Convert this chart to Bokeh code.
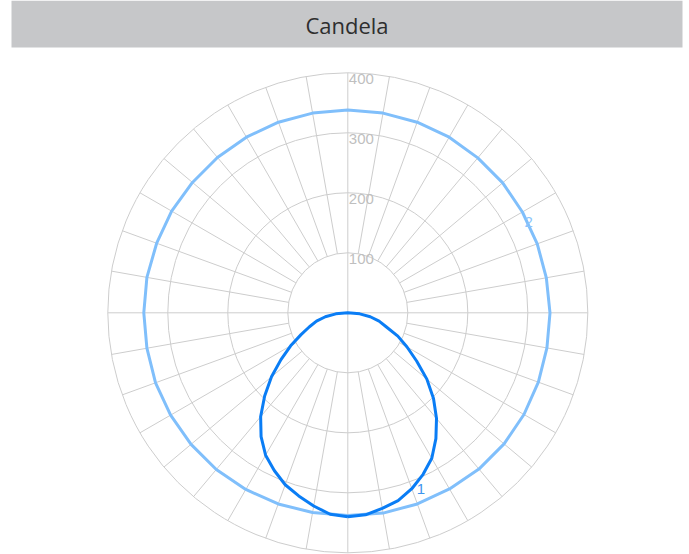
import numpy as np
from bokeh.plotting import figure
from bokeh.models import Range1d
from bokeh.core.properties import value
from bokeh.embed import file_html
from bokeh.resources import INLINE

# ---------------- data ----------------
title_text = "Candela"
radial_ticks = [100, 200, 300, 400]
radial_tick_labels = ["100", "200", "300", "400"]
spoke_step_deg = 10

# series 1: angle from nadir (deg), candela, two half-planes
s1_angles = [0, 5, 10, 15, 20, 25, 30, 35, 40, 45, 50, 55, 60, 65, 70, 75, 80, 85, 90]
s1_right = [340, 338, 331, 324, 312, 297, 280, 256, 230, 202, 172, 140, 114, 92, 68, 54, 38, 20, 0]
s1_left = [340, 337, 327, 316, 305, 290, 274, 252, 226, 196, 166, 136, 110, 86, 68, 54, 38, 20, 0]

# series 2: full turn, angle from nadir going right/up/left
s2_angles = [0, 10, 20, 30, 40, 50, 60, 70, 80, 90, 100, 110, 120,
             130, 140, 150, 160, 170, 180, 190, 200, 210, 220, 230, 240,
             250, 260, 270, 280, 290, 300, 310, 320, 330, 340, 350, 360]
s2_values = [338, 339, 339, 339, 340, 340, 339, 338, 337, 337, 336, 336, 336,
             337, 337, 338, 338, 338, 338, 338, 338, 338, 338, 338, 339,
             339, 340, 340, 340, 341, 341, 341, 341, 340, 339, 338, 338]

series_labels = ["1", "2"]

# ---------------- geometry ----------------
FIG_W, FIG_H = 684, 554
CX, CY = 347.3, 312.3   # polar centre in figure pixels
PX = 0.6                # pixels per candela


def dx(px):
    return (px - CX) / PX


def dy(py):
    return (CY - py) / PX


def polar(theta_deg, r):
    t = np.radians(np.asarray(theta_deg, dtype=float))
    r = np.asarray(r, dtype=float)
    return r * np.sin(t), -r * np.cos(t)


p = figure(width=FIG_W, height=FIG_H,
           x_range=Range1d(dx(0), dx(FIG_W)), y_range=Range1d(dy(FIG_H), dy(0)),
           output_backend="svg", toolbar_location=None,
           x_axis_location=None, y_axis_location=None,
           min_border=0, min_border_left=0, min_border_right=0,
           min_border_top=0, min_border_bottom=0)
p.grid.visible = False
p.outline_line_color = None
p.background_fill_color = "white"
p.border_fill_color = "white"

GRID = "#cdcdcd"

# header bar
p.quad(left=[dx(11)], right=[dx(682)], top=[dy(0)], bottom=[dy(47)],
       fill_color="#c6c7c9", line_color=None)
p.text(x=[dx(346.5)], y=[dy(24.8)], text=[title_text], text_align="center",
       text_baseline="middle", text_font=value("Open Sans"),
       text_font_size="22px", text_color="#2e2e2e")

# grid circles
rmax = radial_ticks[-1]
p.circle(x=[0] * len(radial_ticks), y=[0] * len(radial_ticks), radius=radial_ticks,
         fill_color=None, line_color=GRID, line_width=1)

# spokes
x0s, y0s, x1s, y1s = [], [], [], []
for a in range(0, 360, spoke_step_deg):
    r0 = 0 if a % 90 == 0 else radial_ticks[0]
    xa, ya = polar(a, r0)
    xb, yb = polar(a, rmax)
    x0s.append(float(xa)); y0s.append(float(ya))
    x1s.append(float(xb)); y1s.append(float(yb))
p.segment(x0=x0s, y0=y0s, x1=x1s, y1=y1s, line_color=GRID, line_width=1)

# radial tick labels along the upward axis
p.text(x=[0] * len(radial_ticks), y=radial_ticks, text=radial_tick_labels,
       x_offset=1, y_offset=1, text_align="left", text_baseline="top",
       text_font=value("Liberation Sans"), text_font_size="15px",
       text_color="#bfbfbf")

# series 2 (light)
x2, y2 = polar(s2_angles, s2_values)
p.line(x=x2, y=y2, line_color="#80bffb", line_width=3)

# series 1 (dark): right half-plane 0..90, left half-plane mirrored
xr, yr = polar(s1_angles, s1_right)
xl, yl = polar([360 - a for a in s1_angles], s1_left)
x1 = np.concatenate([xr, xl[::-1]])
y1 = np.concatenate([yr, yl[::-1]])
p.line(x=x1, y=y1, line_color="#0a7df5", line_width=3)

# series labels placed next to data points
i1 = s1_angles.index(20)
lx1, ly1 = polar(s1_angles[i1], s1_right[i1])
p.text(x=[float(lx1)], y=[float(ly1)], text=[series_labels[0]], x_offset=5, y_offset=0,
       text_align="left", text_baseline="middle", text_font=value("Liberation Sans"),
       text_font_size="15px", text_color="#3d95ee")
i2 = s2_angles.index(120)
lx2, ly2 = polar(s2_angles[i2], s2_values[i2])
p.text(x=[float(lx2)], y=[float(ly2)], text=[series_labels[1]], x_offset=2, y_offset=10,
       text_align="left", text_baseline="middle", text_font=value("Liberation Sans"),
       text_font_size="15px", text_color="#8cc5fb")

open("out.html", "w").write(file_html(p, INLINE))
